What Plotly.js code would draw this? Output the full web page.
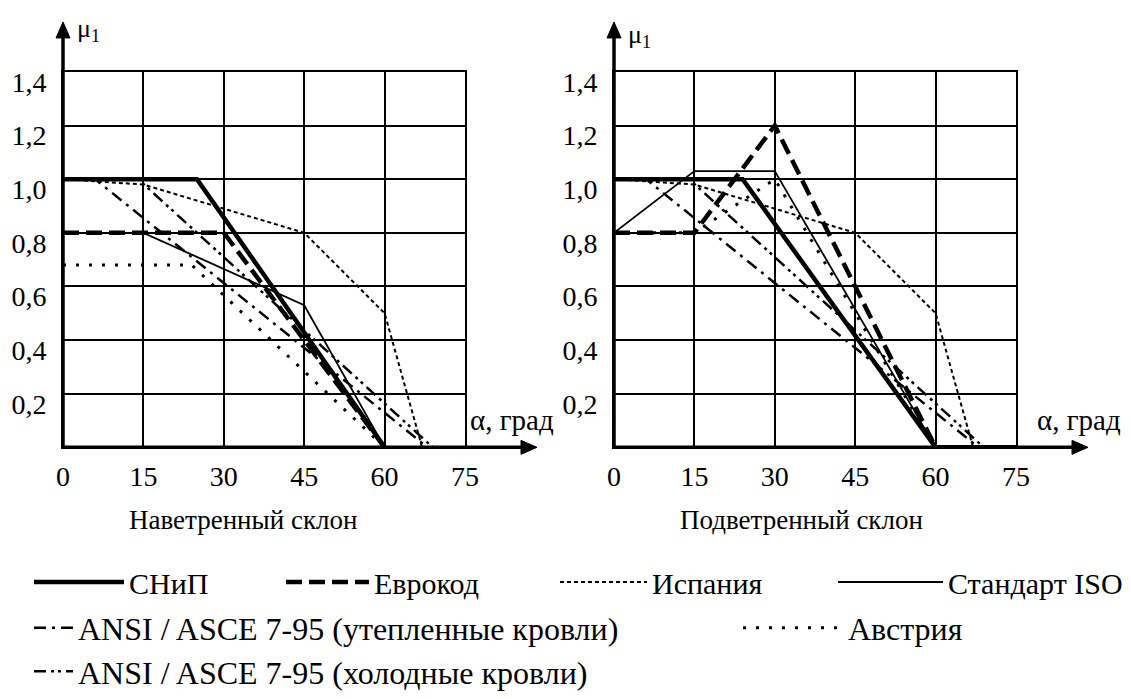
<!DOCTYPE html>
<html><head><meta charset="utf-8">
<script src="https://cdn.plot.ly/plotly-3.0.1.min.js"></script>
<style>html,body{margin:0;padding:0;background:#fff}#chart{width:1131px;height:699px}</style>
</head><body><div id="chart"></div>
<script>
// ---- tick labels ----
const xTickVals = [0, 15, 30, 45, 60, 75];
const xTickText = ['0', '15', '30', '45', '60', '75'];
const yTickVals = [0.2, 0.4, 0.6, 0.8, 1.0, 1.2, 1.4];
const yTickText = ['0,2', '0,4', '0,6', '0,8', '1,0', '1,2', '1,4'];

// ---- series names ----
const seriesNames = ['СНиП', 'Еврокод', 'Испания', 'Стандарт ISO',
  'ANSI / ASCE 7-95 (утепленные кровли)', 'Австрия', 'ANSI / ASCE 7-95 (холодные кровли)'];

// ---- Наветренный склон (windward) ----
const snipWindX = [0, 25, 60];            const snipWindY = [1.0, 1.0, 0];
const euroWindX = [0, 30, 60];            const euroWindY = [0.8, 0.8, 0];
const spainWindX = [0, 15, 45, 60, 67];   const spainWindY = [1.0, 0.98, 0.8, 0.5, 0];
const isoWindX = [0, 15, 45, 60];         const isoWindY = [0.8, 0.8, 0.53, 0];
const ansiWarmWindX = [0, 6, 68, 75];     const ansiWarmWindY = [1.0, 1.0, 0, 0];
const austriaWindX = [0, 24, 60];         const austriaWindY = [0.68, 0.68, 0];
const ansiColdWindX = [0, 14, 69, 75];    const ansiColdWindY = [1.0, 1.0, 0, 0];

// ---- Подветренный склон (leeward) ----
const snipLeeX = [0, 24, 60, 75];         const snipLeeY = [1.0, 1.0, 0, 0];
const euroLeeX = [0, 15, 30, 60];         const euroLeeY = [0.8, 0.8, 1.2, 0];
const spainLeeX = [0, 15, 45, 60, 67];    const spainLeeY = [1.0, 0.98, 0.8, 0.5, 0];
const isoLeeX = [0, 15, 30, 60];          const isoLeeY = [0.8, 1.03, 1.03, 0];
const ansiWarmLeeX = [0, 6, 68, 75];      const ansiWarmLeeY = [1.0, 1.0, 0, 0];
const austriaLeeX = [0, 15, 30, 60];      const austriaLeeY = [0.8, 0.8, 1.0, 0];
const ansiColdLeeX = [0, 14, 69, 75];     const ansiColdLeeY = [1.0, 1.0, 0, 0];

// ---- styles ----
const FONT = 'Liberation Serif';
const styles = [
  {width: 4.5, dash: 'solid'},
  {width: 4.5, dash: '16px,7px'},
  {width: 2, dash: '4px,3px'},
  {width: 1.8, dash: 'solid'},
  {width: 2.5, dash: '12px,6px,3px,6px'},
  {width: 3, dash: '3px,10px'},
  {width: 2.5, dash: '12px,5px,3px,4px,3px,5px'}
];
const windData = [[snipWindX, snipWindY], [euroWindX, euroWindY], [spainWindX, spainWindY], [isoWindX, isoWindY],
  [ansiWarmWindX, ansiWarmWindY], [austriaWindX, austriaWindY], [ansiColdWindX, ansiColdWindY]];
const leeData = [[snipLeeX, snipLeeY], [euroLeeX, euroLeeY], [spainLeeX, spainLeeY], [isoLeeX, isoLeeY],
  [ansiWarmLeeX, ansiWarmLeeY], [austriaLeeX, austriaLeeY], [ansiColdLeeX, ansiColdLeeY]];
const legendIds = ['legend', 'legend2', 'legend3', 'legend4', 'legend5', 'legend6', 'legend7'];

const W = 1131, H = 699;
const px = v => v / W;
const py = v => 1 - v / H;

const traces = [];
const order = [3, 5, 2, 4, 6, 1, 0];
order.forEach(i => {
  traces.push({x: windData[i][0], y: windData[i][1], xaxis: 'x', yaxis: 'y', mode: 'lines', name: seriesNames[i],
    legendgroup: 'g' + i, legend: legendIds[i], showlegend: true,
    line: {color: '#000', width: styles[i].width, dash: styles[i].dash}});
  traces.push({x: leeData[i][0], y: leeData[i][1], xaxis: 'x2', yaxis: 'y2', mode: 'lines', name: seriesNames[i],
    legendgroup: 'g' + i, legend: legendIds[i], showlegend: false,
    line: {color: '#000', width: styles[i].width, dash: styles[i].dash}});
});

// plot boxes (pixels)
const L = {x0: 63, x1: 465};
const R = {x0: 614, x1: 1016};
const Y0 = 448, Y1 = 72;

function xAxis(dom) {
  return {domain: [px(dom.x0), px(dom.x1)], range: [0, 75], tickvals: xTickVals, ticktext: xTickText,
    showgrid: true, gridcolor: '#000', gridwidth: 2, zeroline: false, showline: true, mirror: true,
    linecolor: '#000', linewidth: 2, ticks: '', ticklabelstandoff: 3,
    tickfont: {family: FONT, size: 28, color: '#000'}, fixedrange: true};
}
function yAxis(anchor) {
  return {domain: [py(Y0), py(Y1)], range: [0, 1.4], tickvals: yTickVals, ticktext: yTickText,
    showgrid: true, gridcolor: '#000', gridwidth: 2, zeroline: false, showline: true, mirror: true,
    linecolor: '#000', linewidth: 2, ticks: '', anchor: anchor, ticklabelstandoff: 9, ticklabelshift: 10,
    tickfont: {family: FONT, size: 28, color: '#000'}, fixedrange: true};
}

function label(text, x, y, size, anchor) {
  return {xref: 'paper', yref: 'paper', x: px(x), y: py(y), text: text, showarrow: false,
    xanchor: anchor || 'left', yanchor: 'middle', font: {family: FONT, size: size, color: '#000'}};
}

// axis lines with arrowheads (decoration, paper pixels)
function axisLine(x0, y0, x1, y1) {
  return {type: 'line', xref: 'paper', yref: 'paper', x0: px(x0), y0: py(y0), x1: px(x1), y1: py(y1),
    line: {color: '#000', width: 3.5}, layer: 'above'};
}
function head(pts) {
  const d = 'M' + pts.map(p => px(p[0]) + ',' + py(p[1])).join(' L') + ' Z';
  return {type: 'path', xref: 'paper', yref: 'paper', path: d, fillcolor: '#000', line: {color: '#000', width: 1}, layer: 'above'};
}
const shapes = [];
[L, R].forEach(b => {
  const xTip = b.x1 + 72, yTip = 22;
  shapes.push(axisLine(b.x0, Y0, xTip - 8, Y0));
  shapes.push(head([[xTip, Y0], [xTip - 16, Y0 - 7], [xTip - 16, Y0 + 7]]));
  shapes.push(axisLine(b.x0, Y0, b.x0, yTip + 8));
  shapes.push(head([[b.x0, yTip], [b.x0 - 7, yTip + 16], [b.x0 + 7, yTip + 16]]));
});

const annotations = [
  label('α, град', 468, 421, 29),
  label('α, град', 1035, 421, 29),
  label('μ<sub>1</sub>', 75, 30, 26),
  label('μ<sub>1</sub>', 626, 36, 26),
  label('Наветренный склон', 127, 521, 27),
  label('Подветренный склон', 678, 521, 27)
];

// legend placement: [sample start px, text start px, row center px, font size]
const legendPos = [[29, 131, 582, 30], [281, 376, 582, 30], [555, 654, 582, 30], [833, 950, 582, 30],
  [29, 80, 628, 32], [738, 850, 628, 32], [29, 80, 672, 32]];

const layout = {
  width: W, height: H, margin: {l: 0, r: 0, t: 0, b: 0}, paper_bgcolor: '#fff', plot_bgcolor: '#fff',
  font: {family: FONT, color: '#000'},
  xaxis: Object.assign(xAxis(L), {anchor: 'y'}),
  yaxis: yAxis('x'),
  xaxis2: Object.assign(xAxis(R), {anchor: 'y2'}),
  yaxis2: yAxis('x2'),
  annotations: annotations,
  shapes: shapes,
  hovermode: false
};
legendPos.forEach((p, i) => {
  layout[legendIds[i]] = {x: px(p[0]), y: py(p[2]), xanchor: 'left', yanchor: 'middle', orientation: 'h',
    itemwidth: Math.max(30, p[1] - p[0] - 12), bgcolor: 'rgba(0,0,0,0)', borderwidth: 0,
    font: {family: FONT, size: p[3], color: '#000'}, itemclick: false, itemdoubleclick: false};
});

Plotly.newPlot('chart', traces, layout, {displayModeBar: false, staticPlot: true});
</script></body></html>
